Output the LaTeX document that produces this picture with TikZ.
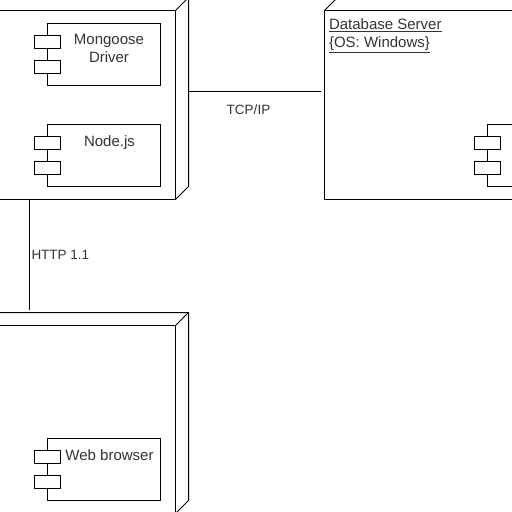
\documentclass[tikz,border=0pt]{standalone}
\usepackage{fontspec}
\setmainfont{Liberation Sans}
\usetikzlibrary{calc,positioning}

\begin{document}
\begin{tikzpicture}[x=1pt,y=-1pt,font=\fontsize{15}{18}\selectfont,line width=1pt]
  \tikzstyle{device}=[draw,outer sep=0pt,inner sep=0pt,anchor=north west]
  \tikzstyle{comp}=[draw,outer sep=0pt,inner sep=0pt,anchor=north west,minimum width=113pt,minimum height=62pt]
  \tikzstyle{tab}=[draw,fill=white,outer sep=0pt,inner sep=0pt,minimum width=26pt,minimum height=13pt]
  \tikzstyle{label}=[inner sep=0pt,text depth=0pt,align=center,text=black!80]
  \tikzstyle{linklabel}=[label,font=\fontsize{13.5}{16}\selectfont]
  \clip (0,0) rectangle (512,512);
  % application server
  \node (app) [device,minimum width=189.5pt,minimum height=189pt] at (-14,10.5) {};
  \draw (app.north east) -- +(13,-13) coordinate (appback) -- ($(app.south east)+(13,-13)$) coordinate (appcorner) -- (app.south east);
  \node (driver) [comp] at (47.5,23.5) {};
  \node (drivertaba) [tab] at (47.5,42) {};
  \node (drivertabb) [tab,below=12pt of drivertaba] {};
  \node (drivertext) [label] at (109,48.5) {Mongoose\\Driver};
  \node (nodejs) [comp] at (47.5,124.5) {};
  \node (nodetaba) [tab] at (47.5,143) {};
  \node (nodetabb) [tab,below=12pt of nodetaba] {};
  \node (nodetext) [label] at (109.5,141) {Node.js};
  % database server
  \node (db) [device,minimum width=220pt,minimum height=189pt] at (324.5,10.5) {};
  \draw (db.north west) -- +(13,-13) coordinate (dbback);
  \node (dbcomp) [comp] at (487.5,124.5) {};
  \node (dbtaba) [tab] at (487.5,143) {};
  \node (dbtabb) [tab,below=12pt of dbtaba] {};
  \node (dbtext) [label,anchor=north west] at (328.5,18) {\underline{Database Server}};
  \node (dbos) [label,anchor=north west] at (328.5,36.5) {\underline{\{OS: Windows\}}};
  % client
  \node (client) [device,minimum width=189.5pt,minimum height=188pt] at (-14,325.5) {};
  \draw (client.north west) -- +(13,-13) -- ($(client.north east)+(13,-13)$) coordinate (clientback) -- ($(client.south east)+(13,-13)$) -- (client.south east);
  \draw (client.north east) -- (clientback);
  \node (browser) [comp] at (47.5,438.5) {};
  \node (browsertaba) [tab] at (47.5,457) {};
  \node (browsertabb) [tab,below=12pt of browsertaba] {};
  \node (browsertext) [label] at (109.5,455) {Web browser};
  % links
  \coordinate (tcpa) at (188.5,91.5);
  \coordinate (tcpb) at (320.5,91.5);
  \draw (tcpa) -- (tcpb) node [midway,linklabel,below=13pt,xshift=-6pt] (tcp) {TCP/IP};
  \coordinate (httpa) at (29.5,199.5);
  \coordinate (httpb) at (29.5,310);
  \draw (httpa) -- (httpb) node [midway,linklabel,anchor=west,xshift=1.5pt] (http) {HTTP 1.1};
\end{tikzpicture}
\end{document}
